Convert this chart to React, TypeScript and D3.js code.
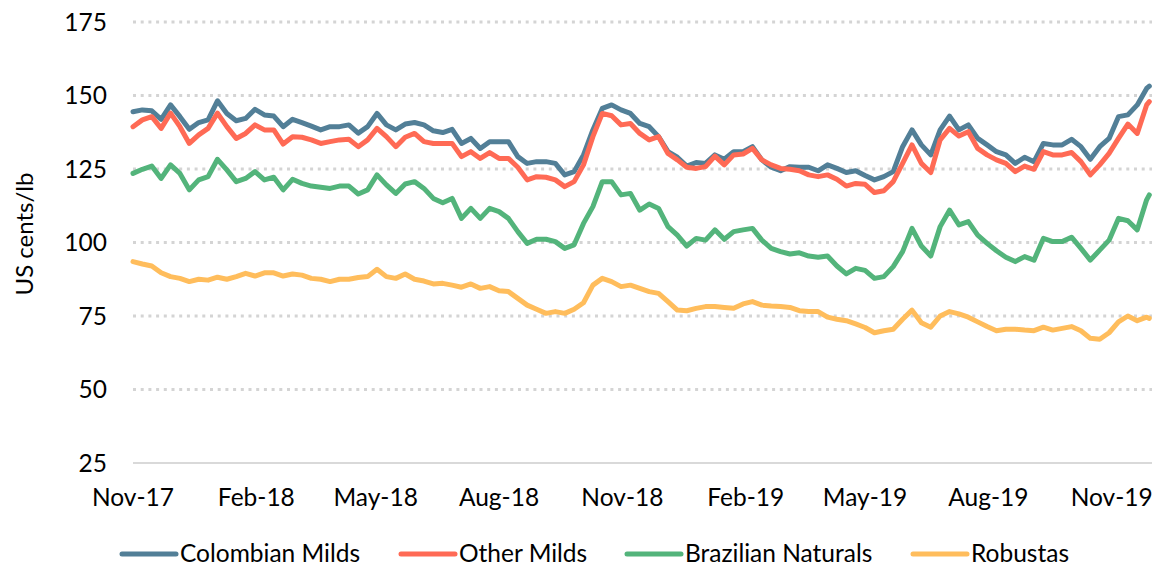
import * as d3 from 'd3';
import React from 'react';

// weekly readings, first week starts 1 Nov 2017, last value is 29 Nov 2019
const colombianMilds = [
  144.5, 145.1, 144.8, 141.9, 146.8, 142.8, 138.5, 140.8, 141.7, 148.2, 143.9, 141.4, 142.2, 145.3, 143.4, 143.0,
  139.4, 141.9, 140.8, 139.6, 138.3, 139.4, 139.4, 140.0, 137.2, 139.4, 143.9, 140.0, 138.3, 140.3, 140.8, 140.0,
  138.0, 137.4, 138.5, 133.7, 135.4, 132.0, 134.3, 134.3, 134.3, 129.2, 126.9, 127.5, 127.5, 126.9, 123.0, 124.1,
  129.8, 138.3, 145.6, 146.8, 145.1, 143.9, 140.5, 139.4, 136.0, 130.9, 129.0, 126.0, 127.2, 126.9, 129.8, 128.3,
  130.9, 130.9, 132.6, 128.1, 125.6, 124.4, 125.8, 125.6, 125.6, 124.4, 126.4, 125.2, 123.8, 124.4, 122.8, 121.3,
  122.4, 124.1, 132.6, 138.3, 133.2, 129.8, 138.3, 143.0, 138.3, 140.0, 135.4, 133.2, 130.9, 129.8, 126.9, 129.0,
  127.5, 133.7, 133.2, 133.2, 135.1, 132.6, 128.3, 132.6, 135.4, 142.8, 143.4, 146.8, 152.4, 153.2,
];

const otherMilds = [
  139.4, 141.7, 142.8, 138.8, 144.0, 139.4, 133.7, 136.6, 138.8, 144.0, 139.4, 135.4, 137.1, 140.0, 138.3, 138.3,
  133.5, 136.0, 135.8, 134.9, 133.7, 134.3, 134.9, 135.1, 132.6, 134.9, 138.8, 136.0, 132.6, 135.8, 137.1, 134.3,
  133.7, 133.7, 133.7, 129.2, 130.9, 128.6, 130.6, 128.6, 128.6, 125.6, 121.3, 122.4, 122.2, 121.3, 119.0, 120.7,
  126.4, 136.0, 143.9, 143.1, 140.0, 140.5, 137.1, 134.9, 136.0, 130.3, 128.1, 125.6, 125.2, 125.8, 129.4, 126.4,
  129.8, 130.1, 132.0, 128.1, 126.4, 125.2, 124.9, 124.4, 123.0, 122.4, 123.0, 121.5, 119.2, 120.1, 119.8, 117.0,
  117.6, 120.7, 126.9, 133.2, 126.9, 123.8, 134.9, 138.8, 136.2, 137.7, 132.0, 129.8, 128.1, 126.9, 124.1, 126.0,
  124.9, 130.9, 129.8, 129.8, 130.6, 127.5, 123.0, 126.4, 130.3, 135.4, 140.3, 137.1, 146.8, 147.9,
];

const brazilianNaturals = [
  123.5, 124.9, 126.0, 121.8, 126.4, 123.5, 117.9, 121.3, 122.4, 128.3, 124.7, 120.7, 121.8, 124.1, 121.3, 122.2,
  117.9, 121.5, 120.1, 119.2, 118.8, 118.4, 119.2, 119.2, 116.5, 117.9, 123.0, 119.6, 116.7, 119.9, 120.7, 118.4,
  115.0, 113.5, 115.0, 108.2, 111.6, 108.2, 111.6, 110.5, 108.2, 103.7, 99.7, 101.1, 101.1, 100.3, 98.0, 99.2,
  106.5, 112.2, 120.7, 120.7, 116.2, 116.7, 111.0, 113.1, 111.6, 105.4, 102.5, 98.8, 101.4, 100.8, 104.3, 101.1,
  103.7, 104.3, 104.8, 100.8, 98.0, 96.9, 96.1, 96.5, 95.4, 95.0, 95.4, 92.0, 89.3, 91.2, 90.5, 87.8,
  88.4, 91.8, 96.9, 104.8, 98.8, 95.4, 105.4, 111.0, 106.0, 107.1, 102.5, 99.7, 97.2, 95.0, 93.5, 95.2,
  94.0, 101.4, 100.3, 100.3, 101.8, 98.0, 94.0, 97.4, 100.8, 108.2, 107.4, 104.3, 114.5, 116.2,
];

const robustas = [
  93.5, 92.7, 92.0, 89.7, 88.4, 87.8, 86.7, 87.5, 87.2, 88.2, 87.5, 88.4, 89.5, 88.6, 89.7, 89.7,
  88.6, 89.3, 88.9, 87.8, 87.5, 86.7, 87.5, 87.5, 88.1, 88.4, 90.9, 88.4, 87.8, 89.3, 87.5, 86.9,
  85.9, 86.1, 85.5, 84.8, 85.9, 84.4, 85.0, 83.6, 83.3, 81.0, 78.7, 77.3, 75.9, 76.5, 75.9, 77.3,
  79.5, 85.5, 87.8, 86.7, 85.0, 85.5, 84.4, 83.3, 82.7, 79.9, 77.0, 76.8, 77.6, 78.2, 78.2, 77.9,
  77.6, 79.1, 79.9, 78.7, 78.4, 78.2, 77.9, 76.8, 76.5, 76.5, 74.6, 73.9, 73.4, 72.3, 71.1, 69.3,
  70.0, 70.5, 73.9, 77.0, 72.7, 71.2, 75.0, 76.5, 75.7, 74.6, 73.0, 71.4, 70.0, 70.5, 70.5, 70.2,
  70.0, 71.2, 70.2, 70.8, 71.4, 70.0, 67.4, 67.1, 69.3, 73.0, 75.0, 73.4, 74.6, 74.2,
];

const seriesNames = ['Colombian Milds', 'Other Milds', 'Brazilian Naturals', 'Robustas'];
const seriesColors = ['#527f97', '#ff6a55', '#53b47b', '#ffbd5c'];
const yTicks = [25, 50, 75, 100, 125, 150, 175];

const startDate = new Date(2017, 10, 1);
const endDate = new Date(2019, 11, 1);
const lastDate = new Date(2019, 10, 29);
const dates = d3.range(colombianMilds.length - 1)
  .map(k => d3.timeDay.offset(startDate, 7 * k))
  .concat([lastDate]);

const W = 1160;
const H = 569;
const font = 'Lato, "Open Sans", sans-serif';

export default function App() {
  const x = d3.scaleTime().domain([startDate, endDate]).range([133, 1152]);
  const y = d3.scaleLinear().domain([25, 175]).range([463, 22]);

  const line = d3.line<number>()
    .x((d, i) => x(dates[i]))
    .y(d => y(d));

  const allSeries = [colombianMilds, otherMilds, brazilianNaturals, robustas];
  const xTicks = d3.timeMonth.range(startDate, d3.timeDay.offset(endDate, -1), 3);
  const fmt = d3.timeFormat('%b-%y');

  // legend: sample line start, text follows
  const legendX = [122, 401, 627, 913];

  return (
    <svg width={W} height={H} style={{ position: 'absolute', left: 0, top: 0 }} fontFamily={font}>
      {yTicks.slice(1).map(t => (
        <line key={t} x1={133} x2={1152} y1={y(t)} y2={y(t)}
          stroke="#d4d4d4" strokeWidth={3} strokeDasharray="3 4.7" />
      ))}
      <line x1={133} x2={1152} y1={y(25)} y2={y(25)} stroke="#d9d9d9" strokeWidth={2} />

      {yTicks.map(t => (
        <text key={t} x={107} y={y(t)} dy="0.36em" textAnchor="end" fontSize={24.5} fill="#000">{t}</text>
      ))}

      {xTicks.map(t => (
        <text key={+t} x={x(t)} y={506} textAnchor="middle" fontSize={24.5} fill="#000">{fmt(t)}</text>
      ))}

      <text transform="translate(33,234) rotate(-90)" textAnchor="middle" fontSize={24} fill="#000">US cents/lb</text>

      {allSeries.map((s, i) => (
        <path key={seriesNames[i]} d={line(s) || ''} fill="none" stroke={seriesColors[i]}
          strokeWidth={5} strokeLinejoin="round" strokeLinecap="round" />
      ))}

      {seriesNames.map((name, i) => (
        <g key={name}>
          <line x1={legendX[i]} x2={legendX[i] + 54} y1={554} y2={554} stroke={seriesColors[i]} strokeWidth={5} strokeLinecap="round" />
          <text x={legendX[i] + 58} y={562} fontSize={24.5} fill="#000">{name}</text>
        </g>
      ))}
    </svg>
  );
}
